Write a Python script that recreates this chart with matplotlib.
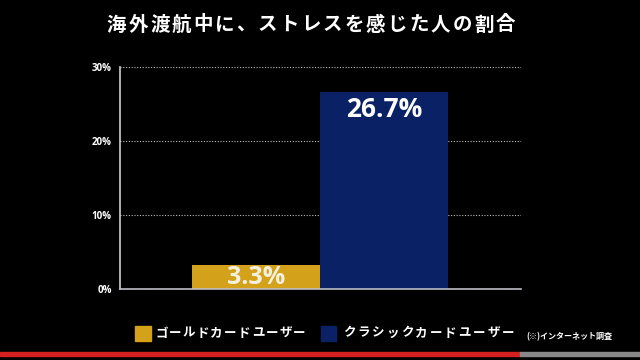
import numpy as np
import matplotlib.pyplot as plt
from matplotlib.patches import Rectangle

plt.rcParams['font.family'] = ['Noto Sans CJK JP', 'DejaVu Sans']

title = "海外渡航中に、ストレスを感じた人の割合"
categories = ["ゴールドカードユーザー", "クラシックカードユーザー"]
values = [3.3, 26.7]
colors = ["#d3a21a", "#0b2166"]
yticks = [0, 10, 20, 30]
ytick_labels = ["0%", "10%", "20%", "30%"]
note = "(※)インターネット調査"

W, H = 640, 360


def spaced_text(fig, s, x0, y, pitch, **kw):
    # draw one glyph at a time to get the wide letter spacing
    for i, ch in enumerate(s):
        fig.text((x0 + i * pitch) / W, 1 - y / H, ch, ha="center", va="center", **kw)


fig = plt.figure(figsize=(6.4, 3.6), dpi=100, facecolor="black")
ax = fig.add_axes([0.1875, 0.196, 0.627, 0.617], facecolor="black")

x = np.arange(len(values))
ax.bar(x, values, width=1.0, color=colors, zorder=3)

for xi, v in zip(x, values):
    label = f"{v:.1f}%"
    if v > 10:
        ax.text(xi, v - 2.4, label, ha="center", va="center", color="white",
                fontsize=19, fontweight="bold", family="Open Sans", zorder=4)
    else:
        ax.text(xi, v * 0.5, label, ha="center", va="center", color="#f4f0e0",
                fontsize=18, fontweight="bold", family="Open Sans", zorder=4)

ax.set_xlim(-1.06, 2.07)
ax.set_ylim(0, 30)
ax.set_yticks(yticks)
ax.set_yticklabels(ytick_labels, color="white", fontsize=7, fontweight="bold",
                   family="Open Sans")
ax.tick_params(axis="y", length=0, pad=6)
ax.set_xticks([])
ax.grid(axis="y", color="#bbbbbb", linestyle=(0, (1, 1.5)), linewidth=0.8, zorder=1)

for s in ["top", "right"]:
    ax.spines[s].set_visible(False)
ax.spines["left"].set_color("#cfcfcf")
ax.spines["left"].set_linewidth(1.2)
ax.spines["bottom"].set_color("#bdbdc6")
ax.spines["bottom"].set_linewidth(1.2)
ax.spines["left"].set_zorder(5)
ax.spines["bottom"].set_zorder(5)

spaced_text(fig, title, 116.5, 25, 21.6, color="white", fontsize=14,
            fontweight="bold")

# legend
leg_y = 333
fig.patches.append(Rectangle((135 / W, 1 - 341 / H), 16 / W, 15 / H,
                             transform=fig.transFigure, color=colors[0]))
spaced_text(fig, categories[0], 161.5, leg_y, 13.8, color="white", fontsize=9,
            fontweight="bold")
fig.patches.append(Rectangle((321 / W, 1 - 341 / H), 15 / W, 15 / H,
                             transform=fig.transFigure, color=colors[1]))
spaced_text(fig, categories[1], 349.5, leg_y, 14.4, color="white", fontsize=9,
            fontweight="bold")
fig.text(526 / W, 1 - 337 / H, note, ha="left", va="center", color="white",
         fontsize=5.8, fontweight="bold")

# player progress bar strip at the bottom
fig.patches.append(Rectangle((0, 1 - 356 / H), 520 / W, 4 / H,
                             transform=fig.transFigure, color="#d52020"))
fig.patches.append(Rectangle((520 / W, 1 - 356 / H), 120 / W, 4 / H,
                             transform=fig.transFigure, color="#888888"))

fig.savefig("out.png", dpi=100, facecolor="black")
